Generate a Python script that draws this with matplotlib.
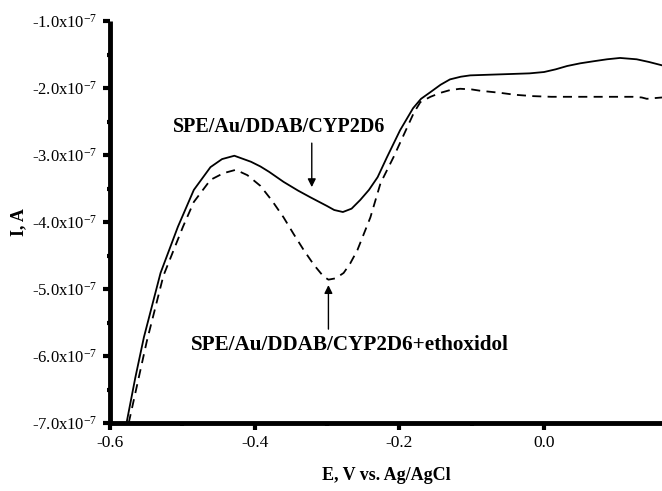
import matplotlib
matplotlib.use('Agg')
import matplotlib.pyplot as plt
from matplotlib.ticker import MultipleLocator, FixedLocator

plt.rcParams['font.family'] = ['Liberation Serif', 'DejaVu Serif']
plt.rcParams['mathtext.fontset'] = 'custom'
plt.rcParams['mathtext.rm'] = 'Liberation Serif'
plt.rcParams['mathtext.it'] = 'Liberation Serif:italic'
plt.rcParams['mathtext.bf'] = 'Liberation Serif:bold'

# current in units of 1e-7 A
E_cyp = [-0.577, -0.565, -0.553, -0.530, -0.506, -0.484, -0.461, -0.445, -0.428, -0.405,
         -0.392, -0.380, -0.360, -0.340, -0.323, -0.300, -0.290, -0.278, -0.266, -0.254,
         -0.242, -0.230, -0.217, -0.199, -0.181, -0.170, -0.157, -0.143, -0.130, -0.115,
         -0.102, -0.075, -0.047, -0.020, 0.000, 0.016, 0.032, 0.050, 0.068, 0.087,
         0.105, 0.128, 0.145, 0.163]
I_cyp = [-7.00, -6.33, -5.72, -4.76, -4.07, -3.52, -3.18, -3.06, -3.01, -3.10,
         -3.17, -3.25, -3.40, -3.53, -3.63, -3.76, -3.82, -3.85, -3.80, -3.67,
         -3.52, -3.33, -3.03, -2.63, -2.30, -2.16, -2.06, -1.95, -1.87, -1.83,
         -1.81, -1.80, -1.79, -1.78, -1.76, -1.72, -1.67, -1.63, -1.60, -1.57,
         -1.55, -1.57, -1.61, -1.66]

E_eth = [-0.574, -0.549, -0.526, -0.499, -0.484, -0.461, -0.443, -0.426, -0.410, -0.392,
         -0.376, -0.360, -0.346, -0.332, -0.318, -0.305, -0.298, -0.288, -0.277, -0.268,
         -0.258, -0.240, -0.226, -0.208, -0.194, -0.180, -0.171, -0.157, -0.143, -0.130,
         -0.116, -0.100, -0.088, -0.061, -0.040, -0.015, 0.010, 0.032, 0.077, 0.123,
         0.135, 0.142, 0.152, 0.163]
I_eth = [-7.00, -5.78, -4.80, -4.07, -3.70, -3.37, -3.27, -3.22, -3.30, -3.46,
         -3.68, -3.93, -4.18, -4.42, -4.64, -4.81, -4.86, -4.84, -4.76, -4.62,
         -4.42, -3.93, -3.42, -3.03, -2.70, -2.37, -2.21, -2.13, -2.07, -2.03,
         -2.01, -2.02, -2.04, -2.07, -2.10, -2.12, -2.13, -2.13, -2.13, -2.13,
         -2.14, -2.16, -2.15, -2.14]

x_ticks = [-0.6, -0.4, -0.2, 0.0]
x_labels = ['-0.6', '-0.4', '-0.2', '0.0']
y_ticks = [-7, -6, -5, -4, -3, -2, -1]
y_labels = ['-%.1fx10$^{-7}$' % abs(v) for v in y_ticks]

fig = plt.figure(figsize=(6.62, 4.91), dpi=100)
ax = fig.add_axes([0.166, 0.1385, 0.834, 0.8185])

ax.plot(E_cyp, I_cyp, color='k', lw=1.3)
ax.plot(E_eth, I_eth, color='k', lw=1.3, dashes=(5, 3.5))

ax.set_xlim(-0.6, 0.163)
ax.set_ylim(-7, -1)

for s in ['top', 'right']:
    ax.spines[s].set_visible(False)
for s in ['left', 'bottom']:
    ax.spines[s].set_linewidth(3.5)
    ax.spines[s].set_capstyle('butt')

ax.xaxis.set_major_locator(FixedLocator(x_ticks))
ax.set_xticklabels(x_labels)
ax.xaxis.set_minor_locator(FixedLocator([-0.5, -0.3, -0.1]))
ax.yaxis.set_major_locator(FixedLocator(y_ticks))
ax.set_yticklabels(y_labels)
ax.yaxis.set_minor_locator(MultipleLocator(0.5))
ax.tick_params(which='major', direction='out', length=5, width=3, labelsize=12.5, pad=4)
ax.tick_params(axis='y', which='major', labelsize=12)
ax.tick_params(which='minor', direction='out', length=2.5, width=3)

ax.set_xlabel('E, V vs. Ag/AgCl', fontsize=13, fontweight='bold', labelpad=11)
ax.set_ylabel('I, A', fontsize=13, fontweight='bold')
ax.yaxis.set_label_coords(-0.150, 0.5)

ax.annotate('', xy=(-0.321, -3.52), xytext=(-0.321, -2.78),
            arrowprops=dict(arrowstyle='-|>', color='k', lw=1, mutation_scale=12))
ax.text(-0.513, -2.58, 'SPE/Au/DDAB/CYP2D6', fontsize=14.5, fontweight='bold',
        ha='left', va='center')

ax.annotate('', xy=(-0.298, -4.90), xytext=(-0.298, -5.64),
            arrowprops=dict(arrowstyle='-|>', color='k', lw=1, mutation_scale=12))
ax.text(-0.488, -5.84, 'SPE/Au/DDAB/CYP2D6+ethoxidol', fontsize=15.2, fontweight='bold',
        ha='left', va='center')

fig.savefig('out.png', dpi=100)
